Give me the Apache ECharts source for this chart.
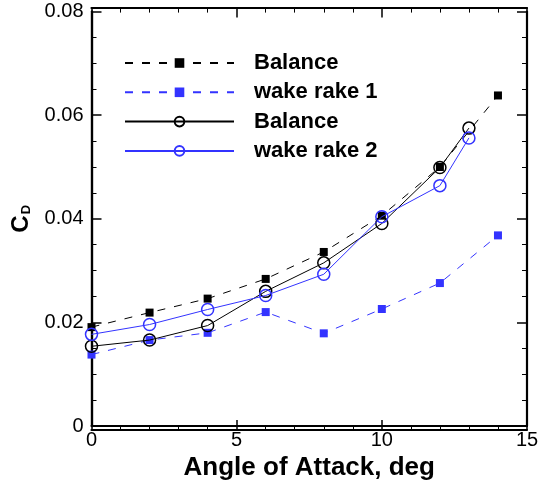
<!DOCTYPE html>
<html>
<head>
<meta charset="utf-8">
<script src="https://cdn.jsdelivr.net/npm/echarts@6/dist/echarts.min.js"></script>
<style>
html,body{margin:0;padding:0;background:#fff;}
#chart{width:542px;height:486px;}
</style>
</head>
<body>
<div id="chart"></div>
<script>
// Data
const alphaBal = [0, 2, 4, 6, 8, 10, 12, 14];
const cdBalanceDashed = [0.0191, 0.0219, 0.0246, 0.0284, 0.0336, 0.0406, 0.0500, 0.0638];
const alphaRake1 = [0, 2, 4, 6, 8, 10, 12, 14];
const cdWakeRake1 = [0.0138, 0.0166, 0.0180, 0.0220, 0.0179, 0.0226, 0.0276, 0.0368];
const alphaBal2 = [0, 2, 4, 6, 8, 10, 12, 13];
const cdBalanceSolid = [0.0154, 0.0166, 0.0194, 0.0260, 0.0315, 0.0391, 0.0499, 0.0575];
const alphaRake2 = [0, 2, 4, 6, 8, 10, 12, 13];
const cdWakeRake2 = [0.0177, 0.0196, 0.0225, 0.0252, 0.0293, 0.0404, 0.0464, 0.0556];
const seriesNames = ['Balance', 'wake rake 1', 'Balance ', 'wake rake 2'];

const BLUE = '#3333ff';
const zip = (xs, ys) => xs.map((x, i) => [x, ys[i]]);
const FONT = 'Liberation Sans, Arial, sans-serif';

const GRID = {left: 91.5, right: 15, top: 11.5, bottom: 56};
const W = 542, H = 486;
const plotW = W - GRID.left - GRID.right;
const plotH = H - GRID.top - GRID.bottom;

const chart = echarts.init(document.getElementById('chart'));

const axisLine = () => ({show: true, onZero: false, lineStyle: {color: '#000', width: 2.2}});
const majorTick = () => ({show: true, length: 10, lineStyle: {color: '#000', width: 1.5}});
const minorTickX = () => ({show: true, length: 5, splitNumber: 5, lineStyle: {color: '#000', width: 1}});
const minorTickY = () => ({show: true, length: 5, splitNumber: 4, lineStyle: {color: '#000', width: 1}});

const xBase = {type: 'value', min: 0, max: 15, interval: 5, splitLine: {show: false}};
const yBase = {type: 'value', min: 0, max: 0.08, interval: 0.02, splitLine: {show: false}};

// Tick-only axes are placed on the opposite frame edge (via offset) so their ticks point into the plot.
const tickAxisX = (position, offset) => Object.assign({}, xBase, {
  position, offset, axisLine: axisLine(), axisTick: majorTick(), minorTick: minorTickX(),
  axisLabel: {show: false}
});
const tickAxisY = (position, offset) => Object.assign({}, yBase, {
  position, offset, axisLine: axisLine(), axisTick: majorTick(), minorTick: minorTickY(),
  axisLabel: {show: false}
});

chart.setOption({
  animation: false,
  backgroundColor: '#fff',
  grid: Object.assign({containLabel: false}, GRID),
  legend: {
    orient: 'vertical',
    left: 124,
    top: 52,
    padding: 0,
    itemWidth: 109,
    itemHeight: 12,
    itemGap: 7.3,
    data: seriesNames,
    textStyle: {fontFamily: FONT, fontWeight: 'bold', fontSize: 22, color: '#000', lineHeight: 21, padding: [0, 0, 0, 15]}
  },
  xAxis: [
    Object.assign({}, xBase, {
      position: 'bottom',
      name: 'Angle of Attack, deg', nameLocation: 'middle', nameGap: 27,
      nameTextStyle: {fontFamily: FONT, fontWeight: 'bold', fontSize: 26, color: '#000'},
      axisLine: axisLine(), axisTick: {show: false}, minorTick: {show: false},
      axisLabel: {fontFamily: FONT, fontSize: 20, color: '#000', margin: 4}
    }),
    tickAxisX('top', -plotH),     // sits on bottom edge, ticks upward
    tickAxisX('bottom', -plotH)   // sits on top edge, ticks downward
  ],
  yAxis: [
    Object.assign({}, yBase, {
      position: 'left',
      name: '{c|C}{d|D}', nameLocation: 'middle', nameGap: 50, nameRotate: 90,
      nameTextStyle: {
        rich: {
          c: {fontFamily: FONT, fontWeight: 'bold', fontSize: 24, color: '#000', lineHeight: 28},
          d: {fontFamily: FONT, fontWeight: 'bold', fontSize: 13, color: '#000', lineHeight: 28, padding: [10, 0, 0, 1]}
        }
      },
      axisLine: axisLine(), axisTick: {show: false}, minorTick: {show: false},
      axisLabel: {fontFamily: FONT, fontSize: 20, color: '#000', margin: 8,
        formatter: v => v === 0 ? '0' : v.toFixed(2)}
    }),
    tickAxisY('right', -plotW),   // sits on left edge, ticks rightward
    tickAxisY('left', -plotW)     // sits on right edge, ticks leftward
  ],
  series: [{
    name: seriesNames[0], type: 'line', data: zip(alphaBal, cdBalanceDashed),
    symbol: 'rect', symbolSize: 8, showAllSymbol: true,
    lineStyle: {color: '#000', width: 1, type: [8, 9]},
    itemStyle: {color: '#000'}, z: 3
  }, {
    name: seriesNames[1], type: 'line', data: zip(alphaRake1, cdWakeRake1),
    symbol: 'rect', symbolSize: 8, showAllSymbol: true,
    lineStyle: {color: BLUE, width: 1, type: [8, 9]},
    itemStyle: {color: BLUE}, z: 3
  }, {
    name: seriesNames[2], type: 'line', data: zip(alphaBal2, cdBalanceSolid),
    symbol: 'circle', symbolSize: 12, showAllSymbol: true,
    lineStyle: {color: '#000', width: 1},
    itemStyle: {color: 'rgba(0,0,0,0)', borderColor: '#000', borderWidth: 1.5}, z: 4
  }, {
    name: seriesNames[3], type: 'line', data: zip(alphaRake2, cdWakeRake2),
    symbol: 'circle', symbolSize: 12, showAllSymbol: true,
    lineStyle: {color: BLUE, width: 1},
    itemStyle: {color: 'rgba(0,0,0,0)', borderColor: BLUE, borderWidth: 1.5}, z: 5
  }]
});
</script>
</body>
</html>
